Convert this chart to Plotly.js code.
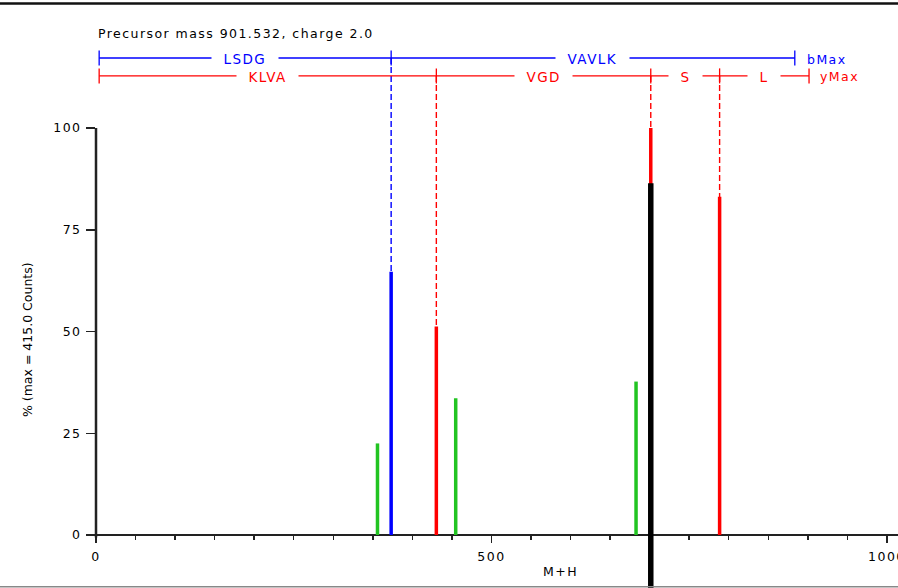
<!DOCTYPE html>
<html><head><meta charset="utf-8">
<script src="https://cdn.plot.ly/plotly-3.0.1.min.js"></script>
<style>
html,body{margin:0;padding:0;background:#fff;}
svg text{letter-spacing:1.45px;}
g.annotation[data-index="0"] text{letter-spacing:0px;}
</style></head>
<body><div id="chart" style="width:898px;height:588px;"></div>
<script>
// Peptide LSDGVAVLK, spectrum annotation
const precursorText = "Precursor mass 901.532, charge 2.0";
const yTitleText = "% (max = 415.0 Counts)";
const xTitleText = "M+H";

// Peaks: m/z and relative intensity (%)
const bPeakMz = [373.17];
const bPeakPct = [64.7];
const yPeakMz = [430.30, 701.42, 788.45];
const yPeakPct = [51.2, 100.0, 83.1];
const otherPeakMz = [355.9, 454.8, 682.8];
const otherPeakPct = [22.5, 33.6, 37.7];
const markerMz = [701.42];
const markerPct = [86.4];

// Ion ladders
const bLadder = [4, 373.17, 883.52];
const bResidues = ["LSDG", "VAVLK"];
const bEndLabel = "bMax";
const yLadder = [4, 430.30, 701.42, 788.45, 901.53];
const yResidues = ["KLVA", "VGD", "S", "L"];
const yEndLabel = "yMax";

const yTickVals = [0, 25, 50, 75, 100];

// ---- styling / layout constants ----
const FONT = "DejaVu Sans";
const FS = 12.5;
const FS_LAD = 13.5;
const BLUE = "#0000ff", RED = "#ff0000", GREEN = "#22c422", BLACK = "#000000", AXIS = "#222222";
const Y_RANGE = [-13.02, 131.45];
const X_RANGE = [0, 1014];
const B_Y = 117.2, Y_Y = 112.8, TICK_H = 1.85;
const NB = "\u00a0\u00a0";

function stems(xs, ys, base) {
  const x = [], y = [];
  xs.forEach((v, i) => { x.push(v, v, null); y.push(base, ys[i], null); });
  return {x, y};
}
function ladderTicks(xs, yc) {
  const x = [], y = [];
  xs.forEach(v => { x.push(v, v, null); y.push(yc - TICK_H, yc + TICK_H, null); });
  return {x, y};
}
function dashes(xs, yc) {
  const x = [], y = [];
  xs.slice(1, -1).forEach(v => { x.push(v, v, null); y.push(yc, 0, null); });
  return {x, y};
}
function lineTrace(d, color, width, dash) {
  return {type: "scatter", mode: "lines", x: d.x, y: d.y, hoverinfo: "skip",
    line: {color: color, width: width, dash: dash || "solid"}, showlegend: false};
}

const traces = [];
traces.push(lineTrace(dashes(bLadder, B_Y), BLUE, 1.4, "6px,3px"));
traces.push(lineTrace(dashes(yLadder, Y_Y), RED, 1.4, "6px,3px"));
traces.push(lineTrace({x: [bLadder[0], bLadder[bLadder.length - 1]], y: [B_Y, B_Y]}, BLUE, 1.3));
traces.push(lineTrace(ladderTicks(bLadder, B_Y), BLUE, 1.3));
traces.push(lineTrace({x: [yLadder[0], yLadder[yLadder.length - 1]], y: [Y_Y, Y_Y]}, RED, 1.3));
traces.push(lineTrace(ladderTicks(yLadder, Y_Y), RED, 1.3));
traces.push(lineTrace(stems(otherPeakMz, otherPeakPct, 0), GREEN, 3.5));
traces.push(lineTrace(stems(bPeakMz, bPeakPct, 0), BLUE, 3.5));
traces.push(lineTrace(stems(yPeakMz, yPeakPct, 0), RED, 3.5));
traces.push(lineTrace(stems(markerMz, markerPct, Y_RANGE[0]), BLACK, 5.5));

const annotations = [];
annotations.push({text: yTitleText, xref: "paper", yref: "paper", x: 0, xshift: -69, y: (588 - 340) / 588,
  textangle: -90, showarrow: false, xanchor: "center", yanchor: "middle", font: {family: FONT, size: FS, color: "#000"}});
annotations.push({text: precursorText, xref: "paper", yref: "paper", x: 0, y: (588 - 33) / 588,
  showarrow: false, xanchor: "left", yanchor: "middle", font: {family: FONT, size: FS, color: "#000"}});
annotations.push({text: xTitleText, xref: "paper", yref: "paper", x: (560 - 96) / 802, y: (588 - 571) / 588,
  showarrow: false, xanchor: "center", yanchor: "middle", font: {family: FONT, size: FS, color: "#000"}});
bResidues.forEach((r, i) => annotations.push({text: NB + r + NB, xref: "x", yref: "y",
  x: (bLadder[i] + bLadder[i + 1]) / 2, y: B_Y, yshift: -1, showarrow: false, bgcolor: "#ffffff", borderpad: 0,
  xanchor: "center", yanchor: "middle", font: {family: FONT, size: FS_LAD, color: BLUE}}));
yResidues.forEach((r, i) => annotations.push({text: NB + r + NB, xref: "x", yref: "y",
  x: (yLadder[i] + yLadder[i + 1]) / 2, y: Y_Y, yshift: -1, showarrow: false, bgcolor: "#ffffff", borderpad: 0,
  xanchor: "center", yanchor: "middle", font: {family: FONT, size: FS_LAD, color: RED}}));
annotations.push({text: bEndLabel, xref: "x", yref: "y", x: bLadder[bLadder.length - 1], xshift: 10, y: B_Y, yshift: -1,
  showarrow: false, xanchor: "left", yanchor: "middle", font: {family: FONT, size: FS, color: BLUE}});
annotations.push({text: yEndLabel, xref: "x", yref: "y", x: yLadder[yLadder.length - 1], xshift: 9, y: Y_Y, yshift: -1,
  showarrow: false, xanchor: "left", yanchor: "middle", font: {family: FONT, size: FS, color: RED}});

const shapes = [
  // y axis line (0..100)
  {type: "line", xref: "paper", yref: "y", x0: 0, x1: 0, y0: -0.6, y1: 100, line: {color: AXIS, width: 2.5}},
  // frame lines
  {type: "line", xref: "paper", yref: "paper", x0: -96 / 802, x1: 1, y0: (588 - 3.5) / 588, y1: (588 - 3.5) / 588, line: {color: "#111", width: 2.5}},
  {type: "line", xref: "paper", yref: "paper", x0: -96 / 802, x1: 1, y0: 1.2 / 588, y1: 1.2 / 588, line: {color: "#888", width: 1.5}}
];

const layout = {
  width: 898, height: 588,
  margin: {l: 96, r: 0, t: 0, b: 0, pad: 0},
  paper_bgcolor: "#ffffff", plot_bgcolor: "#ffffff",
  showlegend: false, hovermode: false,
  font: {family: FONT, size: FS, color: "#000"},
  xaxis: {range: X_RANGE, anchor: "free", position: 53 / 588, showgrid: false, zeroline: false,
    showline: true, linecolor: AXIS, linewidth: 2, layer: "below traces",
    tickmode: "linear", tick0: 0, dtick: 500, ticks: "outside", ticklen: 6.5, tickwidth: 1.5, tickcolor: AXIS,
    ticklabelstandoff: 3, ticklabeloverflow: "allow",
    minor: {tickmode: "linear", tick0: 0, dtick: 50, ticks: "outside", ticklen: 4, tickwidth: 1.5, tickcolor: AXIS, showgrid: false},
    tickfont: {family: FONT, size: FS, color: "#000"}, fixedrange: true},
  yaxis: {range: Y_RANGE, showgrid: false, zeroline: false, showline: false,
    tickmode: "array", tickvals: yTickVals, ticks: "outside", ticklen: 9, tickwidth: 1.5, tickcolor: AXIS,
    ticklabelstandoff: 2,
    tickfont: {family: FONT, size: FS, color: "#000"}, fixedrange: true},
  annotations: annotations,
  shapes: shapes
};

Plotly.newPlot("chart", traces, layout, {displayModeBar: false, staticPlot: true});
</script>
</body></html>
